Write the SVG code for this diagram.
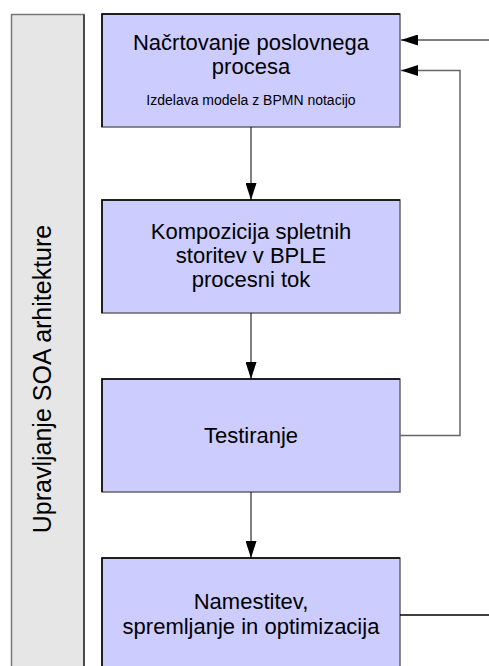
<svg xmlns="http://www.w3.org/2000/svg" width="489" height="666" viewBox="0 0 489 666">
  <style>
    .box { fill: #ccccff; stroke: #666666; stroke-width: 1.5; }
    .edge { fill: none; stroke: #000000; stroke-width: 1.5; }
    .title { font-family: "Liberation Sans", Arial, sans-serif; font-size: 22px; fill: #000000; text-anchor: middle; }
    .lane-label { font-family: "Liberation Sans", Arial, sans-serif; font-size: 25px; fill: #000000; text-anchor: middle; }
    .note { font-family: "Liberation Sans", Arial, sans-serif; font-size: 14px; fill: #000000; text-anchor: middle; }
    .link { fill: none; stroke: #000000; stroke-width: 1; }
    .back { fill: none; stroke: #666666; stroke-width: 1.5; }
  </style>
  <defs>
    <marker id="arrow" viewBox="0 0 17 11" refX="17" refY="5.5" markerWidth="17" markerHeight="11" markerUnits="userSpaceOnUse" orient="auto">
      <path d="M0,0 L17,5.5 L0,11 Z" fill="#000000"/>
    </marker>
  </defs>
  <rect width="489" height="666" fill="#ffffff"/>

  <!-- side lane -->
  <g id="lane">
    <rect x="11.5" y="14.5" width="72.5" height="700" fill="#e6e6e6" stroke="#777777" stroke-width="1.5"/>
    <line x1="84" y1="14.5" x2="84" y2="666" stroke="#000000" stroke-width="1"/>
    <text class="lane-label" transform="translate(51,379) rotate(-90)">Upravljanje SOA arhitekture</text>
  </g>

  <g id="design">
    <rect class="box" x="102" y="14" width="298" height="113"/>
    <path class="edge" d="M102,127 V14 H400"/>
    <text class="title" x="251" y="50">Načrtovanje poslovnega</text>
    <text class="title" x="251" y="74">procesa</text>
    <text class="note" x="251" y="104.5">Izdelava modela z BPMN notacijo</text>
  </g>

  <g id="composition">
    <rect class="box" x="102" y="200" width="298" height="113"/>
    <path class="edge" d="M102,313 V200 H400"/>
    <text class="title" x="251" y="239">Kompozicija spletnih</text>
    <text class="title" x="251" y="263">storitev v BPLE</text>
    <text class="title" x="251" y="287">procesni tok</text>
  </g>

  <g id="testing">
    <rect class="box" x="102" y="379" width="298" height="113"/>
    <path class="edge" d="M102,492 V379 H400"/>
    <text class="title" x="251" y="443">Testiranje</text>
  </g>

  <g id="deployment">
    <rect class="box" x="102" y="558" width="298" height="160"/>
    <path class="edge" d="M102,718 V558 H400"/>
    <text class="title" x="251" y="609">Namestitev,</text>
    <text class="title" x="251" y="634">spremljanje in optimizacija</text>
  </g>

  <g id="connectors">
    <line class="link" x1="251" y1="127" x2="251" y2="200" marker-end="url(#arrow)"/>
    <line class="link" x1="251" y1="313" x2="251" y2="379" marker-end="url(#arrow)"/>
    <line class="link" x1="251" y1="492" x2="251" y2="558" marker-end="url(#arrow)"/>
    <line class="link" x1="489" y1="40" x2="401" y2="40" stroke="#333333" marker-end="url(#arrow)"/>
    <path class="back" d="M400,435.5 H460 V70.5 H401" marker-end="url(#arrow)"/>
    <line x1="400" y1="615" x2="489" y2="615" stroke="#000000" stroke-width="1.5"/>
  </g>
</svg>
